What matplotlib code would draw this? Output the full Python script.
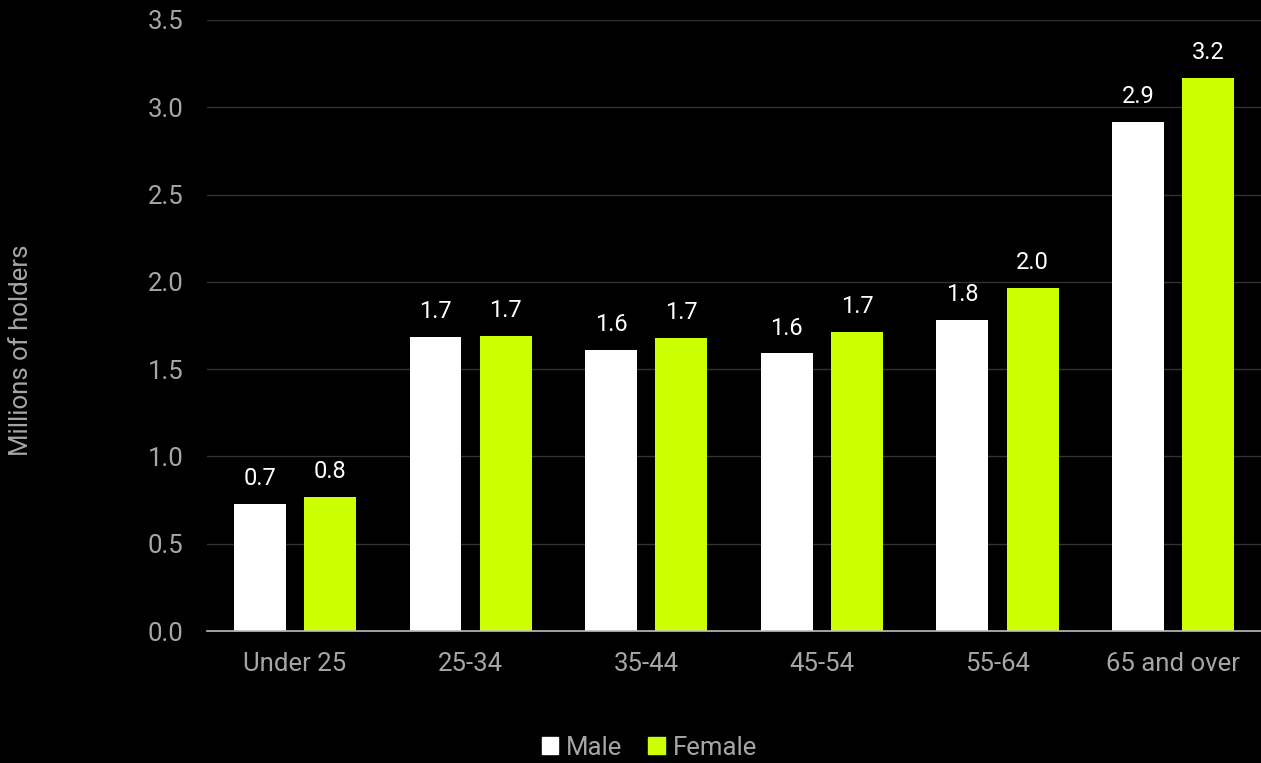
import matplotlib
matplotlib.use('Agg')
import matplotlib.pyplot as plt
import matplotlib.patches as mpatches
import numpy as np

# ── Data ───────────────────────────────────────────────────────────────────
age_groups = ['Under 25', '25-34', '35-44', '45-54', '55-64', '65 and over']
male       = [0.73, 1.684, 1.61, 1.59, 1.78, 2.916]
female     = [0.77, 1.69, 1.68, 1.713, 1.965, 3.168]
y_ticks    = [0.0, 0.5, 1.0, 1.5, 2.0, 2.5, 3.0, 3.5]

BG     = '#000000'
WHITE  = '#ffffff'
LIME   = '#ccff00'
GREY   = '#a6a6a6'
GRID   = '#333333'

plt.rcParams['font.family'] = ['Roboto', 'DejaVu Sans']

fig = plt.figure(figsize=(12.61, 7.63), dpi=100)
fig.patch.set_facecolor(BG)
ax = fig.add_axes([0.1642, 0.173, 0.8358, 0.8008])
ax.set_facecolor(BG)

x = np.arange(len(age_groups))
w = 0.295
off = 0.2
bars_m = ax.bar(x - off, male, w, color=WHITE, zorder=3)
bars_f = ax.bar(x + off, female, w, color=LIME, zorder=3)

for bars, vals in ((bars_m, male), (bars_f, female)):
    for bar, v in zip(bars, vals):
        ax.annotate(f'{v:.1f}', (bar.get_x() + bar.get_width() / 2, v),
                    xytext=(0, 10), textcoords='offset points',
                    ha='center', va='bottom', color=WHITE, fontsize=17)

ax.set_xlim(-0.5, len(age_groups) - 0.5)
ax.set_ylim(0, 3.5)
ax.set_yticks(y_ticks)
ax.set_yticklabels([f'{t:.1f}' for t in y_ticks])
ax.set_xticks(x)
ax.set_xticklabels(age_groups)
ax.tick_params(axis='both', length=0, colors=GREY, labelsize=18.5)
ax.tick_params(axis='y', pad=17)
ax.tick_params(axis='x', pad=15)
ax.yaxis.grid(True, color=GRID, linewidth=1, zorder=0)
for side in ('top', 'right', 'left'):
    ax.spines[side].set_visible(False)
ax.spines['bottom'].set_color('#bfbfbf')
ax.spines['bottom'].set_linewidth(1.2)
ax.spines['bottom'].set_zorder(4)

fig.text(0.007, 0.541, 'Millions of holders', rotation=90, color=GREY,
         fontsize=18.5, ha='left', va='center')

fig.legend(handles=[mpatches.Patch(color=WHITE, label='Male'),
                    mpatches.Patch(color=LIME, label='Female')],
           loc='lower center', bbox_to_anchor=(0.515, -0.026), ncol=2,
           frameon=False, fontsize=18.5, labelcolor=GREY,
           handlelength=0.65, handleheight=0.65, handletextpad=0.3,
           columnspacing=1.0)

plt.savefig('out.png', dpi=100, facecolor=BG)
plt.close(fig)
